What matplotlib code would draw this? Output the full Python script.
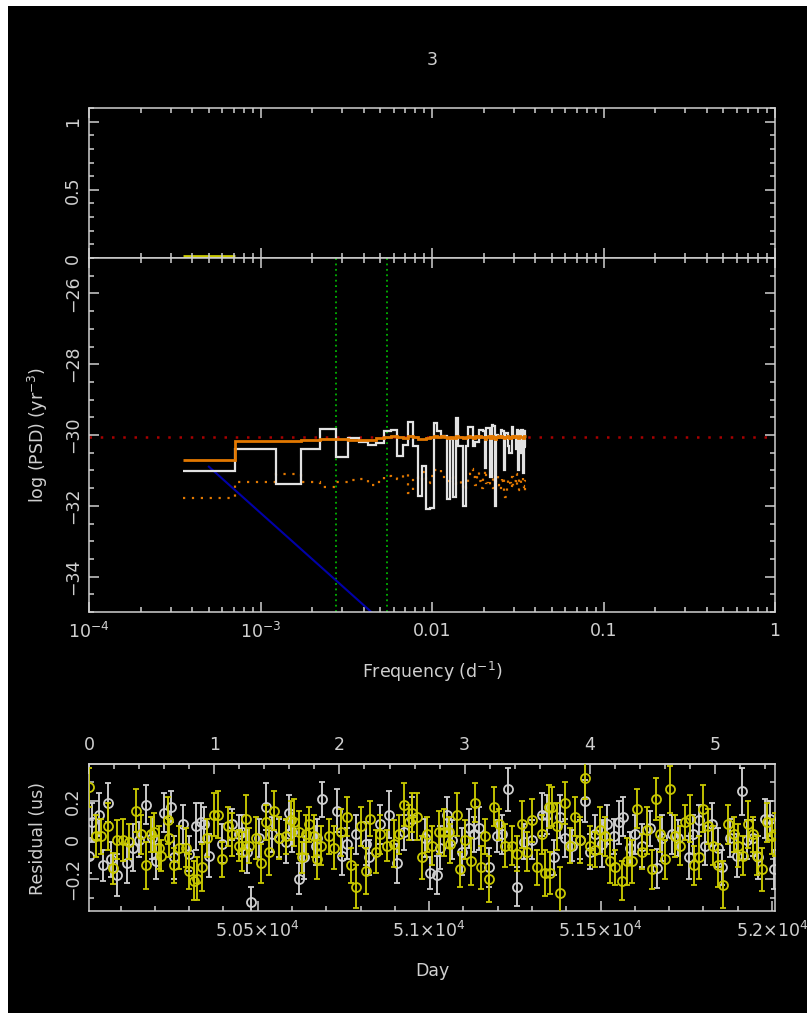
import numpy as np
import matplotlib
matplotlib.use("Agg")
import matplotlib.pyplot as plt
from matplotlib.patches import Rectangle
from matplotlib.ticker import (FixedLocator, FixedFormatter, MultipleLocator,
                               LogLocator, NullFormatter)

plt.rcParams['font.family'] = ['DejaVu Sans']
plt.rcParams['mathtext.fontset'] = 'dejavusans'

# ---------------- data ----------------
T_SPAN = 2000.0                # days covered by the timing data
DAY0, DAY1 = 50008.0, 52009.0  # MJD range of the residual plot

# log10 power spectral density per harmonic (k / T_SPAN)
psd_data = [-31.02, -30.39, -31.38, -30.40, -29.82, -30.62, -30.08, -30.20, -30.27, -30.22,
            -29.90, -29.85, -30.60, -30.27, -29.62, -30.32, -31.73, -30.88, -32.08, -32.05,
            -29.66, -29.90, -30.04, -30.04, -31.80, -30.10, -31.75, -29.52, -30.32, -30.32,
            -32.00, -30.30, -29.76, -29.76, -30.32, -30.20, -30.20, -29.85, -29.85, -29.90,
            -30.93, -29.80, -29.80, -31.20, -29.71, -29.75, -32.00, -30.00, -30.04, -30.04,
            -29.85, -29.88, -31.00, -29.94, -29.94, -30.32, -30.50, -30.50, -29.76, -30.04,
            -30.04, -30.40, -29.85, -31.00, -29.90, -30.50, -29.85, -31.06, -29.90, -30.35]

psd_model = [-30.71, -30.17, -30.16, -30.15, -30.12, -30.10, -30.13, -30.15, -30.14, -30.08,
             -30.05, -30.02, -30.06, -30.08, -30.04, -30.06, -30.10, -30.12, -30.08, -30.06,
             -30.03, -30.05, -30.02, -30.06, -30.09, -30.05, -30.08, -30.04, -30.06, -30.05,
             -30.09, -30.07, -30.03, -30.05, -30.08, -30.04, -30.06, -30.03, -30.05, -30.07,
             -30.10, -30.05, -30.03, -30.08, -30.04, -30.06, -30.10, -30.05, -30.03, -30.06,
             -30.04, -30.07, -30.09, -30.05, -30.03, -30.06, -30.08, -30.05, -30.03, -30.06,
             -30.04, -30.07, -30.05, -30.09, -30.04, -30.06, -30.05, -30.08, -30.04, -30.02]

psd_noise = [-31.77, -31.33, -31.10, -31.33, -31.46, -31.33, -31.28, -31.25, -31.40, -31.33,
             -31.16, -31.20, -31.24, -31.10, -31.65, -31.20, -31.30, -31.05, -31.35, -31.15,
             -31.00, -30.95, -31.10, -31.25, -31.30, -31.20, -31.35, -31.40, -31.40, -31.30,
             -31.55, -31.35, -31.10, -30.95, -31.20, -31.40, -31.05, -31.30, -31.50, -31.20,
             -31.00, -31.35, -31.45, -31.25, -31.10, -31.50, -31.30, -31.15, -31.40, -31.55,
             -31.30, -31.20, -31.60, -31.75, -31.40, -31.25, -31.35, -31.50, -31.20, -31.45,
             -31.30, -31.10, -31.40, -31.55, -31.25, -31.35, -31.20, -31.45, -31.60, -31.30]

# top panel: value in the first harmonic bin
upper_val = [0.012]

white_level = -30.05           # flat white-noise level
gwb_amp = -45.2                # power-law intercept (log10 PSD at f = 1 / day)
gwb_slope = -13.0 / 3.0
marker_freqs = [1 / 365.25, 2 / 365.25]

# residuals, series A (grey)
day_a = [50009, 50018, 50038, 50048, 50062, 50072, 50091, 50120, 50135, 50154,
         50174, 50193, 50203, 50227, 50247, 50256, 50281, 50300, 50319, 50334,
         50344, 50358, 50397, 50426, 50446, 50455, 50470, 50480, 50504, 50523,
         50543, 50562, 50582, 50591, 50601, 50620, 50635, 50669,
         50674, 50688, 50732, 50747, 50761, 50786, 50815, 50824, 50858, 50883,
         50907, 50926, 50951, 50989, 51004, 51023, 51033, 51053, 51067, 51096,
         51116, 51130, 51145, 51174, 51198, 51213, 51230, 51256, 51276, 51300,
         51329,
         51344, 51363, 51383, 51397, 51417, 51441, 51456, 51470, 51485, 51504,
         51519, 51538, 51553, 51567, 51587, 51601, 51621, 51645, 51664, 51679,
         51708, 51727, 51757, 51771, 51786, 51805, 51825, 51844, 51854, 51878,
         51897, 51912, 51926, 51946, 51960, 51980, 51994, 52007]
res_a = [-0.08, 0.09, 0.13, -0.13, 0.19, -0.10, -0.18, -0.12, -0.04, 0.00,
         0.18, 0.01, -0.11, 0.14, 0.17, -0.09, 0.08, -0.07, 0.07, 0.09,
         0.08, -0.08, -0.02, 0.08, 0.03, 0.04, -0.06, -0.32, 0.01, 0.17,
         0.03, 0.01, -0.01, 0.14, 0.04, -0.20, -0.09, -0.03,
         0.01, 0.21, 0.15, -0.08, -0.02, 0.03, -0.02, -0.09, 0.08, 0.13,
         -0.12, 0.04, 0.11, 0.01, -0.17, -0.18, -0.04, 0.13, 0.00, -0.06,
         0.06, 0.03, 0.06, -0.14, 0.02, 0.03, 0.26, -0.24, -0.01, 0.00,
         0.13,
         0.13, -0.09, 0.12, 0.01, -0.03, 0.00, 0.20, -0.06, 0.03, -0.02,
         0.08, 0.02, 0.09, 0.12, -0.04, 0.03, -0.03, 0.06, -0.145, 0.01,
         0.03, 0.01, -0.09, 0.03, 0.10, -0.03, 0.08, -0.04, -0.14, 0.01,
         -0.08, 0.25, 0.00, 0.01, -0.09, 0.11, 0.11, -0.15]
err_a = [0.09, 0.10, 0.11, 0.08, 0.10, 0.09, 0.11, 0.10, 0.12, 0.09,
         0.10, 0.11, 0.09, 0.10, 0.08, 0.11, 0.10, 0.09, 0.12, 0.10,
         0.09, 0.11, 0.10, 0.08, 0.10, 0.09, 0.11, 0.08, 0.10, 0.12,
         0.09, 0.10, 0.11, 0.09, 0.10, 0.08, 0.11, 0.10,
         0.10, 0.09, 0.11, 0.10, 0.08, 0.10, 0.11, 0.09, 0.10, 0.12,
         0.10, 0.09, 0.11, 0.10, 0.08, 0.10, 0.11, 0.09, 0.10, 0.12,
         0.10, 0.09, 0.11, 0.10, 0.08, 0.10, 0.11, 0.10, 0.09, 0.10,
         0.11,
         0.10, 0.09, 0.11, 0.10, 0.08, 0.10, 0.11, 0.09, 0.10, 0.12,
         0.10, 0.09, 0.11, 0.10, 0.08, 0.10, 0.11, 0.09, 0.10, 0.12,
         0.10, 0.09, 0.11, 0.10, 0.08, 0.10, 0.11, 0.10, 0.09, 0.10,
         0.11, 0.12, 0.10, 0.09, 0.11, 0.10, 0.09, 0.10]

# residuals, series B (yellow)
day_b = [50009, 50028, 50043, 50062, 50077, 50091, 50106, 50125, 50145, 50159,
         50174, 50188, 50198, 50213, 50217, 50237, 50242, 50256, 50271, 50290,
         50300, 50315, 50324, 50339, 50353, 50373, 50383, 50397, 50412, 50426,
         50446, 50455, 50465, 50475, 50494, 50509, 50523, 50533, 50548, 50562,
         50582, 50596, 50606, 50620, 50630, 50640, 50650, 50664, 50674,
         50684, 50708, 50722, 50742, 50761, 50771, 50786, 50800, 50815, 50829,
         50844, 50858, 50878, 50897, 50912, 50926, 50941, 50951, 50965, 50980,
         50994, 51009, 51028, 51043, 51057, 51062, 51082, 51091, 51106, 51121,
         51135, 51150, 51164, 51174, 51188, 51203, 51222, 51242, 51256, 51271,
         51286, 51300, 51315, 51329, 51339, 51349,
         51354, 51358, 51373, 51383, 51397, 51412, 51426, 51441, 51454, 51470,
         51485, 51499, 51514, 51528, 51543, 51562, 51577, 51591, 51606, 51621,
         51635, 51650, 51662, 51674, 51689, 51703, 51718, 51732, 51747, 51761,
         51774, 51786, 51800, 51815, 51829, 51844, 51858, 51871, 51888, 51902,
         51917, 51931, 51946, 51956, 51970, 51985, 52000, 52008]
res_b = [0.27, 0.02, 0.02, 0.07, -0.145, 0.00, 0.00, -0.01, 0.15, 0.03,
         -0.13, 0.03, 0.04, -0.04, -0.08, 0.10, 0.01, -0.13, -0.04, -0.04,
         -0.16, -0.21, -0.20, -0.14, 0.01, 0.13, 0.13, -0.10, 0.07, 0.03,
         -0.03, -0.06, 0.11, -0.03, 0.01, -0.12, 0.09, -0.06, 0.15, 0.01,
         0.02, 0.10, 0.09, 0.04, -0.09, 0.03, 0.08, 0.02, -0.10,
         -0.03, 0.02, -0.04, 0.04, 0.12, -0.13, -0.24, 0.07, -0.16, 0.11,
         -0.06, 0.03, -0.03, -0.02, 0.03, 0.18, 0.09, 0.14, 0.12, -0.09,
         0.03, -0.03, 0.04, 0.04, 0.04, -0.02, 0.13, -0.15, 0.00, -0.11,
         0.19, -0.14, 0.02, -0.20, 0.17, 0.08, -0.03, -0.03, -0.07, 0.08,
         -0.06, 0.10, -0.14, 0.03, -0.17, 0.17,
         -0.17, 0.17, 0.07, -0.27, 0.19, -0.03, 0.12, 0.00, 0.32, -0.03,
         -0.05, 0.05, 0.02, -0.11, -0.14, -0.21, -0.11, -0.11, 0.16, -0.06,
         0.05, -0.15, 0.21, 0.03, -0.10, 0.26, 0.02, -0.03, 0.09, 0.11,
         -0.13, -0.09, 0.16, 0.07, -0.03, -0.13, -0.23, 0.08, 0.03, -0.03,
         -0.08, 0.08, 0.03, -0.08, -0.15, 0.09, 0.02, 0.03]
err_b = [0.10, 0.11, 0.09, 0.12, 0.08, 0.10, 0.11, 0.09, 0.11, 0.10,
         0.12, 0.09, 0.10, 0.11, 0.08, 0.12, 0.10, 0.09, 0.11, 0.10,
         0.09, 0.10, 0.11, 0.12, 0.10, 0.11, 0.12, 0.09, 0.10, 0.11,
         0.08, 0.10, 0.12, 0.09, 0.11, 0.10, 0.09, 0.12, 0.10, 0.11,
         0.09, 0.10, 0.12, 0.11, 0.08, 0.10, 0.09, 0.11, 0.10,
         0.10, 0.09, 0.11, 0.12, 0.10, 0.09, 0.11, 0.10, 0.12, 0.09,
         0.11, 0.10, 0.08, 0.12, 0.10, 0.11, 0.09, 0.10, 0.12, 0.11,
         0.09, 0.10, 0.11, 0.12, 0.08, 0.10, 0.11, 0.09, 0.10, 0.12,
         0.10, 0.11, 0.09, 0.12, 0.10, 0.08, 0.11, 0.10, 0.09, 0.12,
         0.10, 0.11, 0.09, 0.10, 0.12, 0.11,
         0.11, 0.10, 0.12, 0.13, 0.11, 0.09, 0.10, 0.12, 0.11, 0.10,
         0.09, 0.12, 0.10, 0.11, 0.09, 0.10, 0.12, 0.11, 0.10, 0.09,
         0.12, 0.10, 0.11, 0.09, 0.10, 0.12, 0.11, 0.10, 0.09, 0.12,
         0.10, 0.11, 0.12, 0.09, 0.10, 0.11, 0.12, 0.10, 0.09, 0.11,
         0.10, 0.12, 0.09, 0.10, 0.11, 0.10, 0.09, 0.11]

# ---------------- style ----------------
BG = 'black'
FG = '#d0d0d0'
C_DATA = '#e2e2e2'
C_MODEL = '#e27800'
C_WHITE = '#a80000'
C_GREEN = '#00b400'
C_BLUE = '#0000a8'
C_YEL = '#c8c800'
C_GREY = '#d0d0d0'
FS = 12.5
LW_AX = 1.1

W, H = 807, 1013
fig = plt.figure(figsize=(W / 100, H / 100), dpi=100, facecolor='white')
fig.patches.append(Rectangle((8 / W, 0), 1, 1 - 6 / H, transform=fig.transFigure,
                             facecolor=BG, edgecolor='none', zorder=-10))


def box(x0, y0, x1, y1):
    return [x0 / W, 1 - y1 / H, (x1 - x0) / W, (y1 - y0) / H]


def style(ax):
    ax.set_facecolor(BG)
    for s in ax.spines.values():
        s.set_color(FG)
        s.set_linewidth(LW_AX)
    ax.tick_params(which='both', direction='in', colors=FG, labelcolor=FG,
                   width=LW_AX, labelsize=FS)
    ax.tick_params(which='major', length=7.5)
    ax.tick_params(which='minor', length=3.8)


def rotate_ylabels(ax):
    for lbl in ax.get_yticklabels():
        lbl.set_rotation(90)
        lbl.set_va('center')


ax_top = fig.add_axes(box(89, 108, 775, 258))
ax_psd = fig.add_axes(box(89, 258, 775, 612), sharex=ax_top)
ax_res = fig.add_axes(box(89, 764, 775, 911))
for ax in (ax_top, ax_psd, ax_res):
    style(ax)

# frequency grid and log-centred bin edges
freq = np.arange(1, len(psd_data) + 1) / T_SPAN
lf = np.log10(freq)
edges = np.concatenate([[lf[0] - (lf[1] - lf[0]) / 2],
                        (lf[1:] + lf[:-1]) / 2,
                        [lf[-1] + (lf[-1] - lf[-2]) / 2]])
edges = 10 ** edges

# ---------------- top panel ----------------
ax_top.set_xscale('log')
ax_top.set_xlim(1e-4, 1)
ax_top.set_ylim(0, 1.1)
ax_top.stairs(upper_val, edges[:2], baseline=None, color=C_YEL, lw=2.0)
ax_top.yaxis.set_major_locator(FixedLocator([0, 0.5, 1]))
ax_top.yaxis.set_major_formatter(FixedFormatter(['0', '0.5', '1']))
ax_top.yaxis.set_minor_locator(MultipleLocator(0.1))
ax_top.tick_params(axis='x', which='both', top=True, bottom=True,
                   labelbottom=False, labeltop=False)
ax_top.tick_params(axis='y', which='both', left=True, right=True, pad=5)
rotate_ylabels(ax_top)

# ---------------- PSD panel ----------------
ax_psd.set_ylim(-35, -25)
ax_psd.axhline(white_level, color=C_WHITE, lw=1.8, ls=(0, (1, 3.5)), zorder=1)
for fm in marker_freqs:
    ax_psd.axvline(fm, color=C_GREEN, lw=1.3, ls=(0, (1, 2)), zorder=1)
ax_psd.plot(freq, gwb_amp + gwb_slope * np.log10(freq), color=C_BLUE, lw=1.5, zorder=2)
ax_psd.stairs(psd_noise, edges, baseline=None, color=C_MODEL, lw=1.6,
              ls=(0, (1, 3)), zorder=3)
ax_psd.stairs(psd_data, edges, baseline=None, color=C_DATA, lw=1.6, zorder=4)
ax_psd.stairs(psd_model, edges, baseline=None, color=C_MODEL, lw=2.0, zorder=5)

ax_psd.xaxis.set_major_locator(FixedLocator([1e-4, 1e-3, 1e-2, 1e-1, 1]))
ax_psd.xaxis.set_major_formatter(FixedFormatter([r'$10^{-4}$', r'$10^{-3}$', '0.01', '0.1', '1']))
ax_psd.xaxis.set_minor_locator(LogLocator(base=10, subs=np.arange(2, 10), numticks=20))
ax_psd.xaxis.set_minor_formatter(NullFormatter())
ax_psd.yaxis.set_major_locator(MultipleLocator(2))
ax_psd.yaxis.set_minor_locator(MultipleLocator(0.5))
ax_psd.tick_params(axis='x', which='both', top=True, bottom=True, pad=7)
ax_psd.tick_params(axis='y', which='both', left=True, right=True, pad=5)
rotate_ylabels(ax_psd)
ax_psd.set_xlabel(r'Frequency (d$^{-1}$)', color=FG, fontsize=FS, labelpad=13)

# ---------------- residual panel ----------------
ax_res.errorbar(day_a, res_a, yerr=err_a, fmt='o', ms=6.5, mfc='none', mec=C_GREY,
                mew=1.3, ecolor=C_GREY, elinewidth=1.35, capsize=2.5, capthick=1.3, zorder=3)
ax_res.errorbar(day_b, res_b, yerr=err_b, fmt='o', ms=6.5, mfc='none', mec=C_YEL,
                mew=1.3, ecolor=C_YEL, elinewidth=1.35, capsize=2.5, capthick=1.3, zorder=4)
ax_res.set_xlim(DAY0, DAY1)
ax_res.set_ylim(-0.365, 0.39)
ax_res.xaxis.set_major_locator(FixedLocator([50500, 51000, 51500, 52000]))
ax_res.xaxis.set_major_formatter(FixedFormatter([r'$5.05{\times}10^{4}$', r'$5.1{\times}10^{4}$',
                                                 r'$5.15{\times}10^{4}$', r'$5.2{\times}10^{4}$']))
ax_res.xaxis.set_minor_locator(MultipleLocator(100))
ax_res.yaxis.set_major_locator(FixedLocator([-0.2, 0, 0.2]))
ax_res.yaxis.set_major_formatter(FixedFormatter(['\u22120.2', '0', '0.2']))
ax_res.yaxis.set_minor_locator(MultipleLocator(0.1))
ax_res.tick_params(axis='x', which='both', top=False, bottom=True, pad=7)
ax_res.tick_params(axis='y', which='both', left=True, right=True, pad=5)
rotate_ylabels(ax_res)
ax_res.set_xlabel('Day', color=FG, fontsize=FS, labelpad=15)

years = ax_res.secondary_xaxis('top', functions=(lambda d: (d - DAY0) / 365.25,
                                                 lambda y: y * 365.25 + DAY0))
years.xaxis.set_major_locator(FixedLocator([0, 1, 2, 3, 4, 5]))
years.xaxis.set_major_formatter(FixedFormatter(['0', '1', '2', '3', '4', '5']))
years.xaxis.set_minor_locator(FixedLocator(np.round(np.arange(0.2, 5.41, 0.2), 1)))
years.tick_params(which='both', direction='in', colors=FG, labelcolor=FG,
                  width=LW_AX, labelsize=FS, pad=7)
years.tick_params(which='major', length=7.5)
years.tick_params(which='minor', length=3.8)
years.spines['top'].set_color(FG)
years.spines['top'].set_linewidth(LW_AX)

# ---------------- labels ----------------
fig.text(432 / W, 1 - 60 / H, '3', color=FG, fontsize=FS, ha='center', va='center')
fig.text(38 / W, 1 - 435 / H, r'log (PSD) (yr$^{-3}$)', color=FG, fontsize=FS,
         rotation=90, ha='center', va='center')
fig.text(38 / W, 1 - 838 / H, 'Residual (us)', color=FG, fontsize=FS,
         rotation=90, ha='center', va='center')

fig.savefig('out.png', dpi=100, facecolor=fig.get_facecolor())
